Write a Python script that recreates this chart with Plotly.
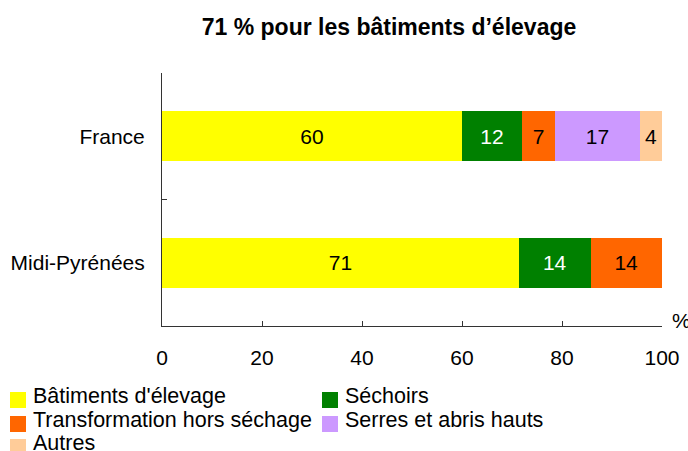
import plotly.graph_objects as go

# ---- data ----
categories = ["France", "Midi-Pyrénées"]
series_names = ["Bâtiments d'élevage", "Séchoirs", "Transformation hors séchage",
                "Serres et abris hauts", "Autres"]
france_values = [60.0, 12.0, 6.6, 17.0, 4.4]
midi_values = [71.4, 14.3, 14.3, None, None]
x_ticks = [0, 20, 40, 60, 80, 100]
title_text = "71 % pour les bâtiments d’élevage"
unit_text = "%"

colors = ["#FFFF00", "#008000", "#FF6600", "#CC99FF", "#FFCC99"]
text_colors = ["black", "white", "black", "black", "black"]
FONT = "Liberation Sans, Arial, sans-serif"

W, H = 688, 451
ML, MR, MT, MB = 162, 26, 73, 125
PW, PH = W - ML - MR, H - MT - MB


def px_x(px):
    return (px - ML) / PW


def px_y(py):
    return (H - MB - py) / PH


fig = go.Figure()
for i, name in enumerate(series_names):
    vals = [france_values[i], midi_values[i]]
    fig.add_trace(go.Bar(
        y=categories, x=vals, name=name, orientation="h",
        marker=dict(color=colors[i], line=dict(width=0)),
        texttemplate="%{x:.0f}", textposition="inside",
        insidetextanchor="middle", constraintext="none",
        textfont=dict(size=21, color=text_colors[i], family=FONT),
        showlegend=False, hoverinfo="skip",
    ))

fig.update_layout(
    template="none",
    width=W, height=H, autosize=False,
    margin=dict(l=ML, r=MR, t=MT, b=MB, pad=0, autoexpand=False),
    barmode="stack", bargap=0.605,
    plot_bgcolor="white", paper_bgcolor="white",
    font=dict(family=FONT, size=21, color="black"),
    title=dict(text="<b>" + title_text + "</b>", x=389 / W, xanchor="center",
               y=1 - 27 / H, yanchor="middle", xref="container", yref="container",
               font=dict(size=23, family=FONT, color="black")),
    xaxis=dict(range=[0, 100], tickvals=x_ticks, ticks="inside", ticklen=5,
               tickcolor="#333", showline=True, linecolor="#333", linewidth=1,
               showgrid=False, zeroline=False, ticklabelstandoff=13, automargin=False,
               tickfont=dict(size=21, family=FONT, color="black")),
    yaxis=dict(autorange="reversed", ticks="inside", ticklen=5, tickson="boundaries",
               tickcolor="#333", showline=True, linecolor="#333", linewidth=1,
               showgrid=False, zeroline=False, ticklabelstandoff=12, automargin=False,
               tickfont=dict(size=21, family=FONT, color="black")),
)

# unit label at the end of the x axis
fig.add_annotation(text=unit_text, xref="paper", yref="paper", x=px_x(670), y=px_y(320),
                   xanchor="left", yanchor="middle", showarrow=False,
                   font=dict(size=21, family=FONT, color="black"))

# manual legend (two columns)
legend_pos = [(10, 392), (322, 392), (10, 416), (322, 416), (10, 439)]
SQ = 16
for i, name in enumerate(series_names):
    lx, ly = legend_pos[i]
    fig.add_shape(type="rect", xref="paper", yref="paper",
                  x0=px_x(lx), x1=px_x(lx + SQ), y0=px_y(ly + SQ), y1=px_y(ly),
                  fillcolor=colors[i], line=dict(width=0))
    fig.add_annotation(text=name, xref="paper", yref="paper",
                       x=px_x(lx + SQ + 5), y=px_y(ly + 4),
                       xanchor="left", yanchor="middle", showarrow=False,
                       font=dict(size=21.5, family=FONT, color="black"))

fig.write_html("out.html", config={"displayModeBar": False},
               post_script="document.body.style.margin='0px';"
                           "document.body.style.overflow='hidden';")
